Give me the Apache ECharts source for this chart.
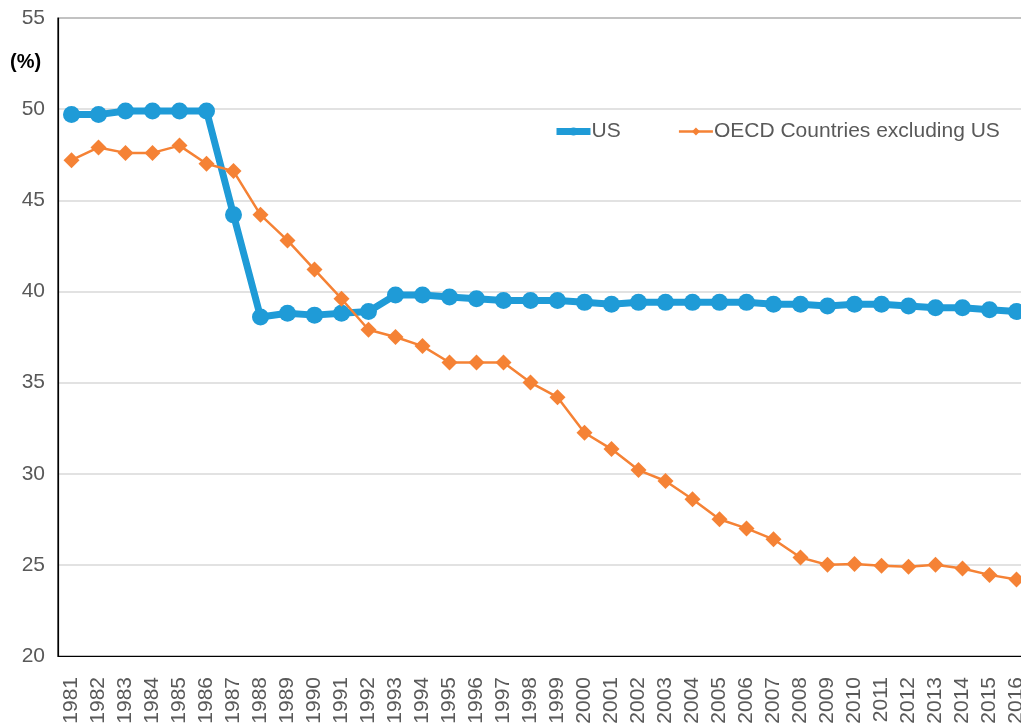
<!DOCTYPE html>
<html>
<head>
<meta charset="utf-8">
<script src="https://cdn.jsdelivr.net/npm/echarts@6/dist/echarts.min.js"></script>
<style>
  html, body { margin: 0; padding: 0; background: #fff; }
  #main { width: 1021px; height: 723px; }
</style>
</head>
<body>
<div id="main"></div>
<script>
var years = ['1981','1982','1983','1984','1985','1986','1987','1988','1989','1990',
  '1991','1992','1993','1994','1995','1996','1997','1998','1999','2000',
  '2001','2002','2003','2004','2005','2006','2007','2008','2009','2010',
  '2011','2012','2013','2014','2015','2016'];

var usRates = [49.7, 49.7, 49.9, 49.9, 49.9, 49.9, 44.2, 38.6, 38.8, 38.7,
  38.8, 38.9, 39.8, 39.8, 39.7, 39.6, 39.5, 39.5, 39.5, 39.4,
  39.3, 39.4, 39.4, 39.4, 39.4, 39.4, 39.3, 39.3, 39.2, 39.3,
  39.3, 39.2, 39.1, 39.1, 39.0, 38.9];

var oecdRates = [47.2, 47.9, 47.6, 47.6, 48.0, 47.0, 46.6, 44.2, 42.8, 41.2,
  39.6, 37.9, 37.5, 37.0, 36.1, 36.1, 36.1, 35.0, 34.2, 32.25,
  31.35, 30.2, 29.6, 28.6, 27.5, 27.0, 26.4, 25.4, 25.0, 25.05,
  24.95, 24.9, 25.0, 24.8, 24.45, 24.2];

var yTicks = { min: 20, max: 55, step: 5 };

var font = 'Liberation Sans, Arial, sans-serif';
var myChart = echarts.init(document.getElementById('main'));

myChart.setOption({
    animation: false,
    backgroundColor: '#fff',
    textStyle: { fontFamily: font },
    graphic: [
        {
            type: 'text',
            left: 10,
            top: 52,
            style: { text: '(%)', font: 'bold 20px ' + font, fill: '#000' }
        }
    ],
    legend: {
        left: 548,
        top: 116,
        itemGap: 57,
        itemWidth: 34,
        itemHeight: 10,
        textStyle: { fontSize: 21, color: '#595959', fontFamily: font, padding: [0, 0, 0, -4] },
        data: [
            { name: 'US', lineStyle: { width: 7 } },
            { name: 'OECD Countries excluding US', lineStyle: { width: 2.5 } }
        ]
    },
    grid: {
        left: 58,
        top: 18,
        right: -9,
        bottom: 67,
        outerBoundsMode: 'none',
        containLabel: false,
        show: true,
        borderColor: '#000',
        borderWidth: 1.2
    },
    xAxis: {
        type: 'category',
        data: years,
        boundaryGap: true,
        axisLine: { lineStyle: { color: '#000', width: 1.2 } },
        axisTick: { show: false },
        axisLabel: {
            interval: 0,
            rotate: 90,
            margin: 21,
            fontSize: 21,
            color: '#595959',
            fontFamily: font
        }
    },
    yAxis: {
        type: 'value',
        min: yTicks.min,
        max: yTicks.max,
        interval: yTicks.step,
        axisLine: { show: true, lineStyle: { color: '#000', width: 1.2 } },
        axisTick: { show: false },
        axisLabel: { fontSize: 21, color: '#595959', margin: 13, fontFamily: font },
        splitLine: { lineStyle: { color: '#d9d9d9', width: 1.5 } }
    },
    series: [
        {
            name: 'US',
            type: 'line',
            data: usRates,
            color: '#1f9bd7',
            lineStyle: { width: 7, color: '#1f9bd7' },
            symbol: 'circle',
            symbolSize: 17,
            itemStyle: { color: '#1f9bd7' },
            z: 2
        },
        {
            name: 'OECD Countries excluding US',
            type: 'line',
            data: oecdRates,
            color: '#f58235',
            lineStyle: { width: 2.5, color: '#f58235' },
            symbol: 'diamond',
            symbolSize: 16,
            itemStyle: { color: '#f58235' },
            z: 3
        }
    ]
});
</script>
</body>
</html>
